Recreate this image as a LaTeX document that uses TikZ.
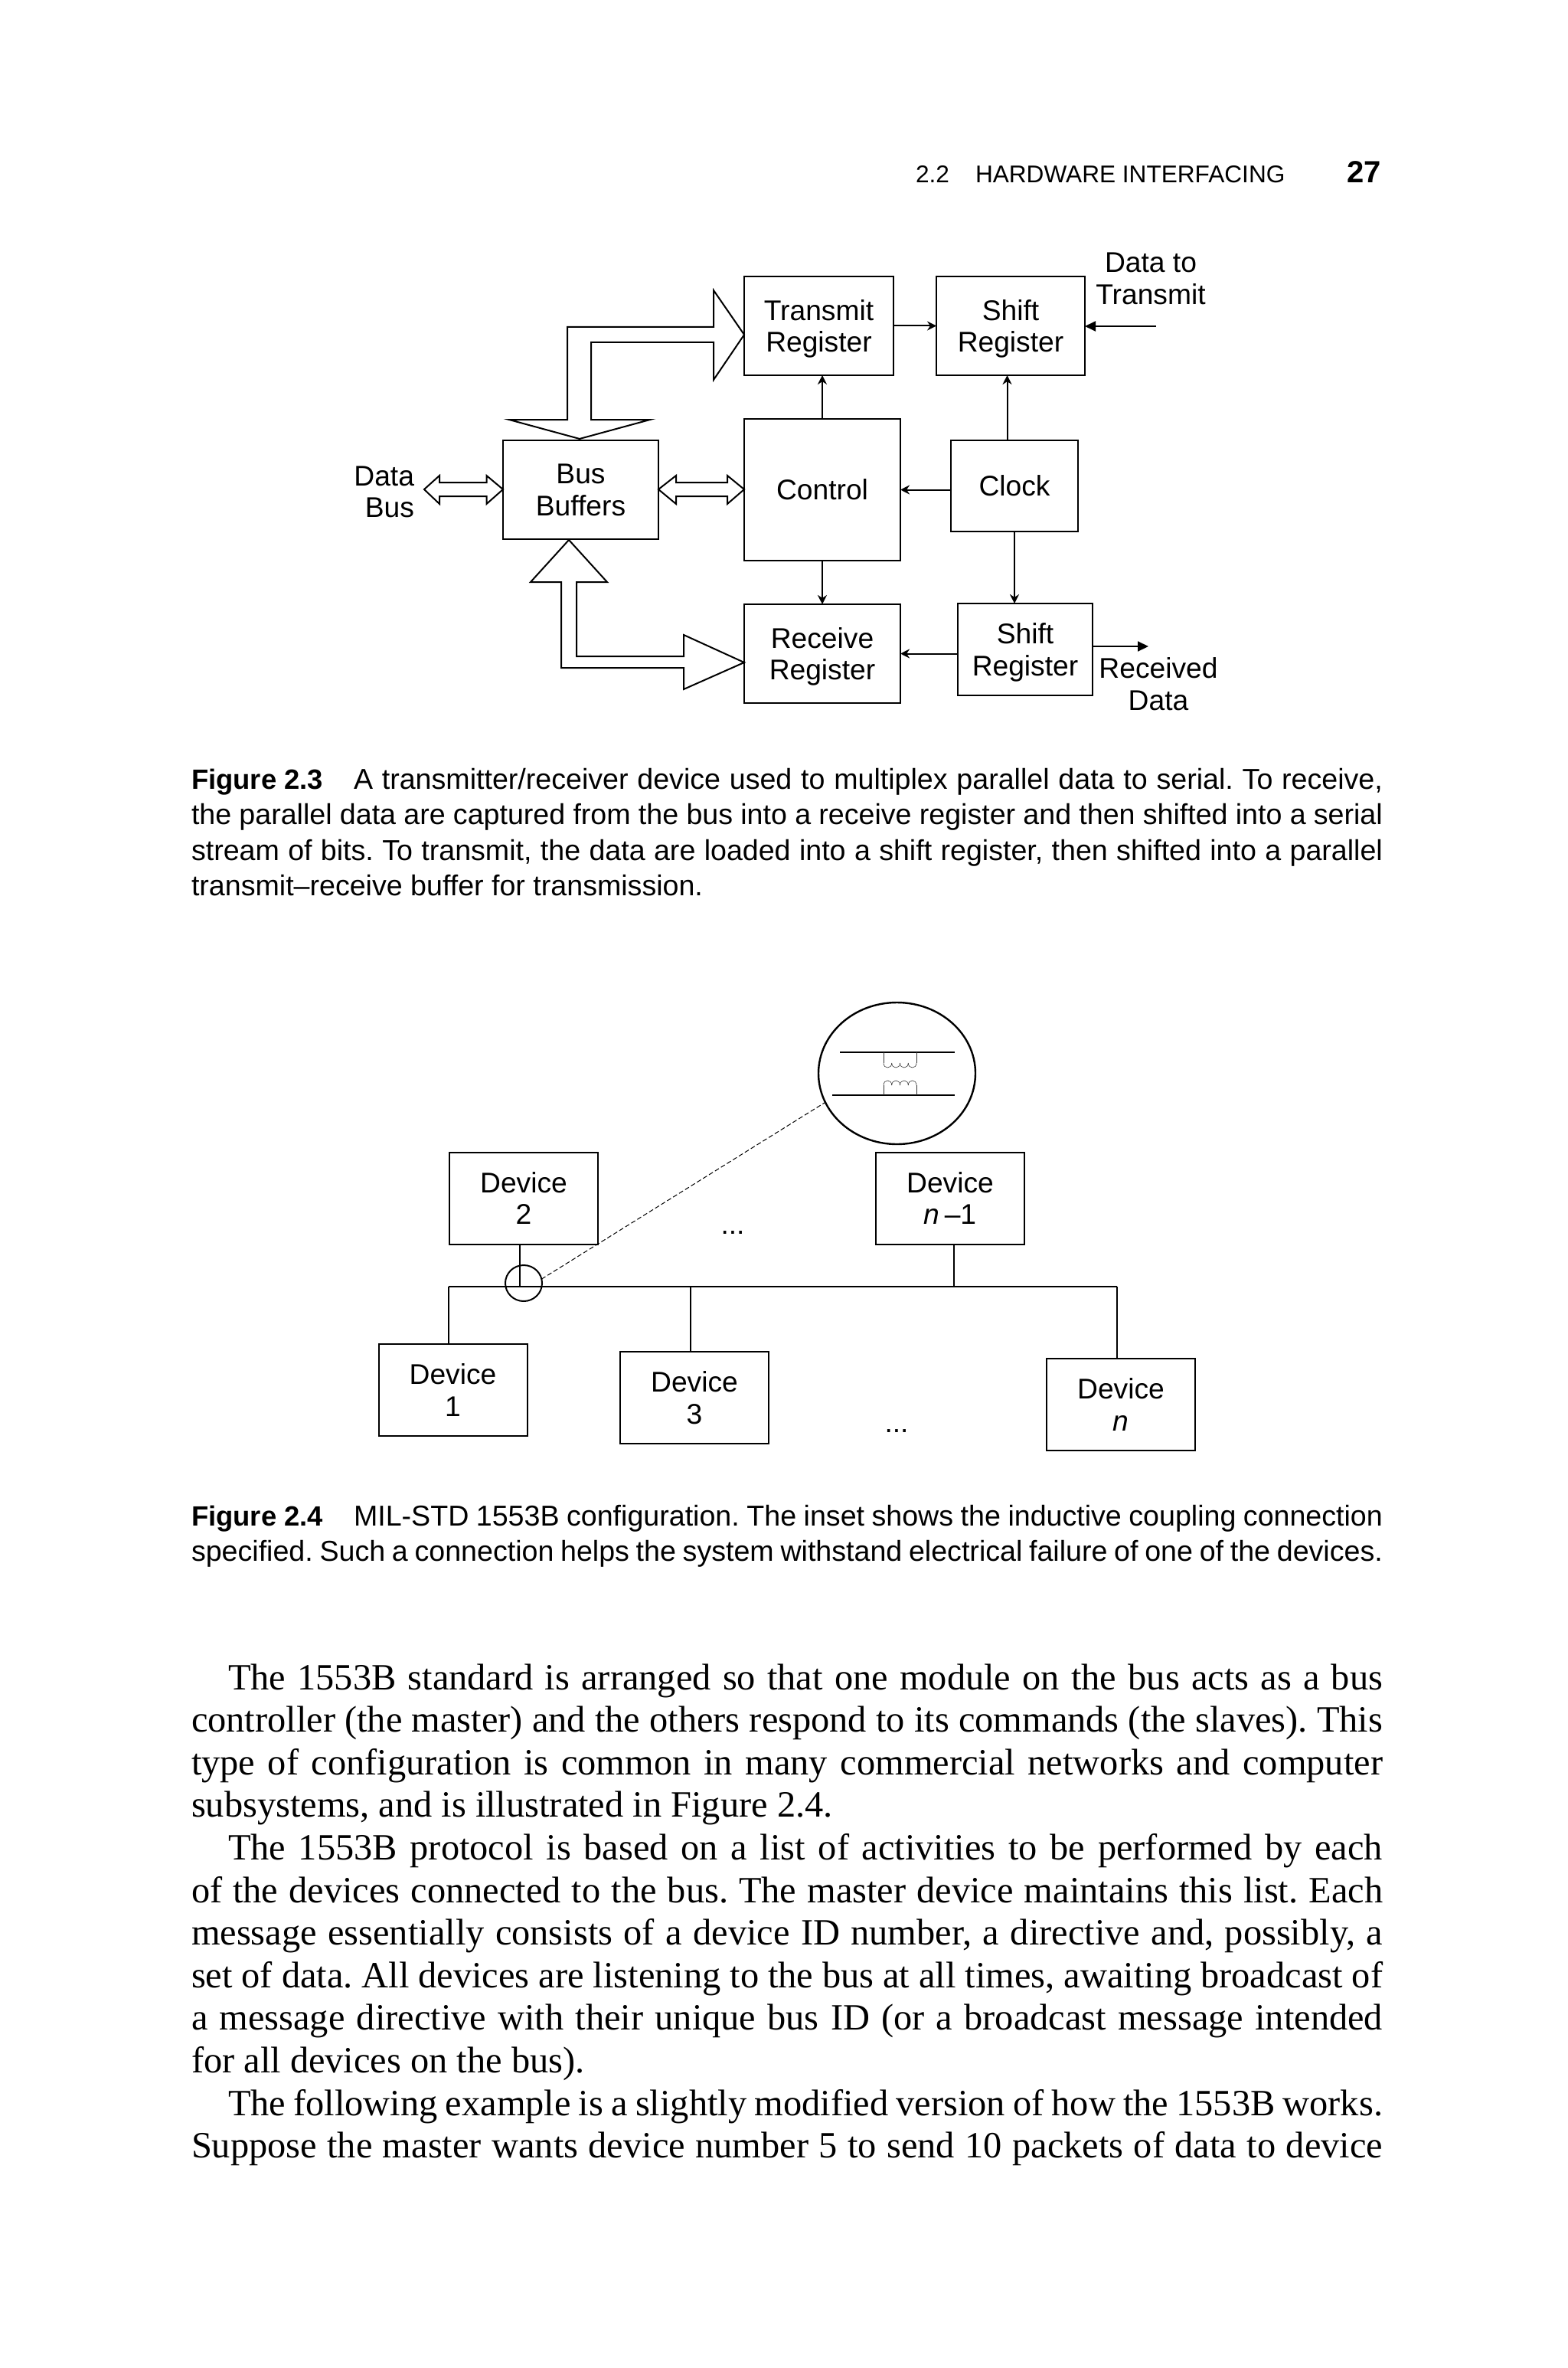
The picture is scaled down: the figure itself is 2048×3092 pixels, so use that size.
\documentclass[tikz,border=0pt]{standalone}
\usepackage{fontspec}
\setmainfont{Liberation Sans}
\newfontfamily\bodyserif{Liberation Serif}
\usetikzlibrary{arrows.meta,positioning,calc,shapes.geometric}
\frenchspacing
\newcommand{\fitline}[2]{\makebox[\dimexpr#1pt/2\relax][s]{#2}}
\tikzset{
  >={Stealth[length=6pt,width=6pt]},
  blk/.style 2 args={draw,line width=1pt,inner sep=0pt,outer sep=0pt,align=center,text depth=0pt,
    minimum width=#1*.5pt,minimum height=#2*.5pt,font=\fontsize{18.6}{20.8}\selectfont},
  lab/.style={inner sep=0pt,outer sep=0pt,align=center,text depth=0pt,font=\fontsize{18.6}{20.8}\selectfont},
  trans/.style={->,line width=1pt},
  feed/.style={-{Triangle[length=7pt,width=6.5pt]},line width=1pt},
  hollow/.style={draw,line width=1pt,miter limit=20},
  wire/.style={line width=1pt},
  busbar/.style={line width=1.1pt},
  coupler/.style={ellipse,draw,line width=1pt,inner sep=0pt,outer sep=0pt},
  coilwire/.style={line width=.3pt,draw=black!80},
  inset/.style={line width=1.2pt},
  rel/.style={dash pattern=on 3pt off 1.6pt,line width=.5pt},
  pagehead/.style={anchor=base west,inner sep=0pt,outer sep=0pt},
  figlab/.style={anchor=base west,inner sep=0pt,outer sep=0pt,font=\fontsize{18.2}{23.2}\selectfont\bfseries},
  captxt/.style={anchor=base west,inner sep=0pt,outer sep=0pt,font=\fontsize{18.8}{23.2}\selectfont},
  bodytxt/.style={anchor=base west,inner sep=0pt,outer sep=0pt,font=\bodyserif\fontsize{24.2}{27.8}\selectfont}
}
\begin{document}
\begin{tikzpicture}[x=.5pt,y=-.5pt]
      \useasboundingbox (0,0) rectangle (2048,3092);

      \node[pagehead,font=\fontsize{15.8}{18}\selectfont] (runsec) at (1196,239) {2.2};
      \node[pagehead,font=\fontsize{15.8}{18}\selectfont] (runhead) at (1274,239) {HARDWARE INTERFACING};
      \node[pagehead,font=\fontsize{20}{24}\selectfont\bfseries] (folio) at (1759,239) {27};

      \node[blk={195}{129}] (txreg) at (1069.5,425.5) {Transmit\\Register};
      \node[blk={194}{129}] (shiftup) at (1320,425.5) {Shift\\Register};
      \node[blk={204}{185}] (ctrl) at (1074,639.5) {Control};
      \node[blk={203}{129}] (buf) at (758.5,639.5) {Bus\\Buffers};
      \node[blk={166}{119}] (clock) at (1325,634.5) {Clock};
      \node[blk={204}{129}] (rxreg) at (1074,853.5) {Receive\\Register};
      \node[blk={176}{120}] (shiftdn) at (1339,848) {Shift\\Register};
      \node[lab,anchor=east,align=right] (databus) at (541,642) {Data\\Bus};
      \node[lab] (txdata) at (1503,364) {Data to\\Transmit};
      \node[lab] (rxdata) at (1513,893) {Received\\Data};
      \coordinate (txin) at (1510,426);
      \coordinate (rxout) at (1500,844);
      \coordinate (clkup) at (1315.5,500);

      \draw[trans] (txreg.east) -- (shiftup.west);
      \draw[feed] (txin) -- (txin -| shiftup.east);
      \draw[trans] (ctrl.north) -- (ctrl.north |- txreg.south);
      \draw[trans] (clkup |- clock.north) -- (clkup |- shiftup.south);
      \draw[trans] (clock.west |- ctrl.east) -- (ctrl.east);
      \draw[trans] (ctrl.south) -- (ctrl.south |- rxreg.north);
      \draw[trans] (clock.south) -- (clock.south |- shiftdn.north);
      \draw[trans] (shiftdn.west |- rxreg.east) -- (rxreg.east);
      \draw[feed] (shiftdn.east |- rxout) -- (rxout);

      \draw[hollow] (972,437)--(932,379)--(932,427)--(741,427)--(741,548)--(665,548)--(757,573)
         --(849,548)--(772,548)--(772,447)--(932,447)--(932,496)--cycle;
      \draw[hollow] (743,705)--(693,760)--(733,760)--(733,872)--(893,872)--(893,900)--(972,865)
         --(893,829)--(893,857)--(753,857)--(753,760)--(793,760)--cycle;
      \foreach \xa/\xb/\xc/\xd in {554/574/635.5/657,860/883/950/972}{
        \draw[hollow] (\xa,639)--(\xb,621)--(\xb,630)--(\xc,630)--(\xc,621)--(\xd,639)
           --(\xc,658)--(\xc,648)--(\xb,648)--(\xb,658)--cycle;
      }

      \node[figlab] (figa) at (250,1030) {Figure 2.3};
      \node[captxt] (capa) at (462,1030) {\fitline{1344}{A transmitter/receiver device used to multiplex parallel data to serial. To receive,}};
      \node[captxt] (capb) at (250,1076) {\fitline{1556}{the parallel data are captured from the bus into a receive register and then shifted into a serial}};
      \node[captxt] (capc) at (250,1123) {\fitline{1556}{stream of bits. To transmit, the data are loaded into a shift register, then shifted into a parallel}};
      \node[captxt] (capd) at (250,1169) {transmit–receive buffer for transmission.};

      \node[blk={194}{120}] (devb) at (684,1564.5) {Device\\2};
      \node[blk={194}{120}] (devm) at (1241,1564.5) {Device\\\textit{n}\,–1};
      \node[blk={194}{120}] (deva) at (591.5,1815) {Device\\1};
      \node[blk={194}{120}] (devc) at (907,1825) {Device\\3};
      \node[blk={194}{120}] (devn) at (1464,1834) {Device\\\textit{n}};
      \node[lab] (dotsa) at (957,1609) {...};
      \node[lab] (dotsb) at (1171,1868) {...};
      \coordinate (busl) at (586,1680);
      \coordinate (busr) at (1459,1680);
      \coordinate (tapb) at (679,1680);
      \coordinate (tapc) at (902,1680);
      \coordinate (tapm) at (1246,1680);

      \draw[busbar] (busl) -- (busr);
      \draw[wire] (busl) -- (busl |- deva.north);
      \draw[wire] (busr) -- (busr |- devn.north);
      \draw[wire] (tapb) -- (tapb |- devb.south);
      \draw[wire] (tapc) -- (tapc |- devc.north);
      \draw[wire] (tapm) -- (tapm |- devm.south);

      \node[coupler,minimum width=24pt,minimum height=23.5pt] (tap) at (684,1675.5) {};
      \node[coupler,inset,minimum width=102.5pt,minimum height=92.5pt] (zoom) at (1171.5,1401.5) {};
      \draw[rel] (tap.13) -- (zoom.202.5);

      \coordinate (wirea) at (1097,1374);
      \coordinate (wireb) at (1087,1430);
      \draw[inset] (wirea) -- (1247,1374);
      \draw[inset] (wireb) -- (1247,1430);
      \draw[coilwire] (1154,1374) -- (1154,1388) (1197,1388) -- (1197,1374);
      \draw[coilwire] (1154,1430) -- (1154,1417) (1197,1417) -- (1197,1430);
      \foreach \k in {0,...,3}{
        \draw[coilwire] ({1154+\k*10.75},1388) .. controls +(0,8) and +(0,8) .. +(10.75,0);
        \draw[coilwire] ({1154+\k*10.75},1417) .. controls +(0,-8) and +(0,-8) .. +(10.75,0);
      }

      \node[figlab] (figb) at (250,1992) {Figure 2.4};
      \node[captxt] (cape) at (462,1992) {\fitline{1344}{MIL-STD 1553B configuration. The inset shows the inductive coupling connection}};
      \node[captxt] (capf) at (250,2038) {\fitline{1556}{specified. Such a connection helps the system withstand electrical failure of one of the devices.}};

      \node[bodytxt] (bla) at (298,2206) {\fitline{1508}{The 1553B standard is arranged so that one module on the bus acts as a bus}};
      \node[bodytxt] (blb) at (250,2261.6) {\fitline{1556}{controller (the master) and the others respond to its commands (the slaves). This}};
      \node[bodytxt] (blc) at (250,2317.2) {\fitline{1556}{type of configuration is common in many commercial networks and computer}};
      \node[bodytxt] (bld) at (250,2372.8) {subsystems, and is illustrated in Figure 2.4.};
      \node[bodytxt] (ble) at (298,2428.4) {\fitline{1508}{The 1553B protocol is based on a list of activities to be performed by each}};
      \node[bodytxt] (blf) at (250,2484) {\fitline{1556}{of the devices connected to the bus. The master device maintains this list. Each}};
      \node[bodytxt] (blg) at (250,2539.6) {\fitline{1556}{message essentially consists of a device ID number, a directive and, possibly, a}};
      \node[bodytxt] (blh) at (250,2595.2) {\fitline{1556}{set of data. All devices are listening to the bus at all times, awaiting broadcast of}};
      \node[bodytxt] (bli) at (250,2650.8) {\fitline{1556}{a message directive with their unique bus ID (or a broadcast message intended}};
      \node[bodytxt] (blj) at (250,2706.4) {for all devices on the bus).};
      \node[bodytxt] (blk) at (298,2762) {\fitline{1508}{The following example is a slightly modified version of how the 1553B works.}};
      \node[bodytxt] (bll) at (250,2817.6) {\fitline{1556}{Suppose the master wants device number 5 to send 10 packets of data to device}};
    \end{tikzpicture}
\end{document}
